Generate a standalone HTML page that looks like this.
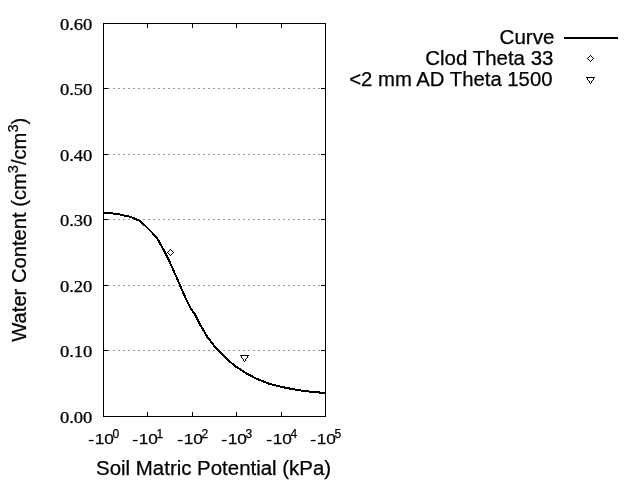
<!DOCTYPE html>
<html><head><meta charset="utf-8"><style>
html,body{margin:0;padding:0;background:#fff;width:640px;height:480px;overflow:hidden}
svg{display:block;will-change:transform}
text{font-family:"Liberation Sans",sans-serif;fill:#000;stroke:#000;stroke-width:0.25px}
.ser text{font-family:"Liberation Serif",serif;stroke:#000;stroke-width:0.25px}
</style></head><body>
<svg width="640" height="480" viewBox="0 0 640 480">
<rect x="0" y="0" width="640" height="480" fill="#fff"/>
<g stroke="#999" stroke-width="1" stroke-dasharray="2 3" shape-rendering="crispEdges">
<line x1="108" y1="88.5" x2="321" y2="88.5"/>
<line x1="108" y1="154.5" x2="321" y2="154.5"/>
<line x1="108" y1="219.5" x2="321" y2="219.5"/>
<line x1="108" y1="285.5" x2="321" y2="285.5"/>
<line x1="108" y1="350.5" x2="321" y2="350.5"/>
</g>
<g stroke="#000" stroke-width="1" fill="none" shape-rendering="crispEdges">
<rect x="103.5" y="23.5" width="222" height="393"/>
<path d="M103 88.5H108M103 154.5H108M103 219.5H108M103 285.5H108M103 350.5H108
M321 88.5H326M321 154.5H326M321 219.5H326M321 285.5H326M321 350.5H326
M147.5 412V417M192.5 412V417M236.5 412V417M281.5 412V417
M147.5 23V28M192.5 23V28M236.5 23V28M281.5 23V28"/>
</g>
<polyline points="103,212.9 113,213.5 120,214.5 124,215.5 129,216.5 132,217.5 135,218.8 139.7,220.9 145.4,225.9 151.7,232.2 156.9,237.8 161,245.2 165.2,252.8 169.2,260.8 173.75,271.0 180,285.2 185,296.8 190,307.2 195,314.5 200,324.4 207.5,337.2 215,346.8 220.6,352.7 228.1,360.2 235.6,366.4 238.75,368.3 244.4,372.3 252.8,376.8 255.15,378.3 261.25,380.5 268.75,383.6 280,386.6 294,389.4 306,391.2 315,392.2 325,392.9" fill="none" stroke="#000" stroke-width="2" stroke-linejoin="round" shape-rendering="crispEdges"/>
<path d="M170.5 249.5L173.5 252.5L170.5 255.5L167.5 252.5Z" fill="none" stroke="#000" stroke-width="1" shape-rendering="crispEdges"/>
<path d="M240.5 355.5H248.5L244.5 361.5Z" fill="none" stroke="#000" stroke-width="1" shape-rendering="crispEdges"/>
<g font-size="16" text-anchor="end" class="ser">
<text x="92.4" y="30" textLength="32.5" lengthAdjust="spacingAndGlyphs">0.60</text>
<text x="92.4" y="95" textLength="32.5" lengthAdjust="spacingAndGlyphs">0.50</text>
<text x="92.4" y="161" textLength="32.5" lengthAdjust="spacingAndGlyphs">0.40</text>
<text x="92.4" y="226" textLength="32.5" lengthAdjust="spacingAndGlyphs">0.30</text>
<text x="92.4" y="292" textLength="32.5" lengthAdjust="spacingAndGlyphs">0.20</text>
<text x="92.4" y="357" textLength="32.5" lengthAdjust="spacingAndGlyphs">0.10</text>
<text x="92.4" y="423" textLength="32.5" lengthAdjust="spacingAndGlyphs">0.00</text>
</g>
<g font-size="15.3">
<rect x="88.8" y="439.9" width="4.8" height="1.3" fill="#000"/><text x="94.70" y="444" textLength="19.2" lengthAdjust="spacingAndGlyphs">10</text><text x="112.5" y="437.7" font-size="12">0</text>
<rect x="132.8" y="439.9" width="4.8" height="1.3" fill="#000"/><text x="138.70" y="444" textLength="19.2" lengthAdjust="spacingAndGlyphs">10</text><text x="156.5" y="437.7" font-size="12">1</text>
<rect x="177.8" y="439.9" width="4.8" height="1.3" fill="#000"/><text x="183.70" y="444" textLength="19.2" lengthAdjust="spacingAndGlyphs">10</text><text x="201.5" y="437.7" font-size="12">2</text>
<rect x="221.8" y="439.9" width="4.8" height="1.3" fill="#000"/><text x="227.70" y="444" textLength="19.2" lengthAdjust="spacingAndGlyphs">10</text><text x="245.5" y="437.7" font-size="12">3</text>
<rect x="266.8" y="439.9" width="4.8" height="1.3" fill="#000"/><text x="272.70" y="444" textLength="19.2" lengthAdjust="spacingAndGlyphs">10</text><text x="290.5" y="437.7" font-size="12">4</text>
<rect x="310.8" y="439.9" width="4.8" height="1.3" fill="#000"/><text x="316.70" y="444" textLength="19.2" lengthAdjust="spacingAndGlyphs">10</text><text x="334.5" y="437.7" font-size="12">5</text>
</g>
<text x="213.6" y="474.5" font-size="20" text-anchor="middle" textLength="235" lengthAdjust="spacingAndGlyphs">Soil Matric Potential (kPa)</text>
<text transform="translate(25.5 229.7) rotate(-90)" font-size="20" text-anchor="middle" textLength="224" lengthAdjust="spacingAndGlyphs">Water Content (cm<tspan font-size="14.5" dy="-8">3</tspan><tspan dy="8">/cm</tspan><tspan font-size="14.5" dy="-8">3</tspan><tspan dy="8">)</tspan></text>
<g font-size="20" text-anchor="end">
<text x="554.5" y="44" textLength="55" lengthAdjust="spacingAndGlyphs">Curve</text>
<text x="553.5" y="65" textLength="128.3" lengthAdjust="spacingAndGlyphs">Clod Theta 33</text>
<text x="552.5" y="86" textLength="203.3" lengthAdjust="spacingAndGlyphs">&lt;2 mm AD Theta 1500</text>
</g>
<rect x="564" y="37" width="54" height="2" fill="#000"/>
<path d="M590.5 55.5L593.5 58.5L590.5 61.5L587.5 58.5Z" fill="none" stroke="#000" stroke-width="1" shape-rendering="crispEdges"/>
<path d="M586.5 77.5H594.5L590.5 83.5Z" fill="none" stroke="#000" stroke-width="1" shape-rendering="crispEdges"/>
</svg>
</body></html>
